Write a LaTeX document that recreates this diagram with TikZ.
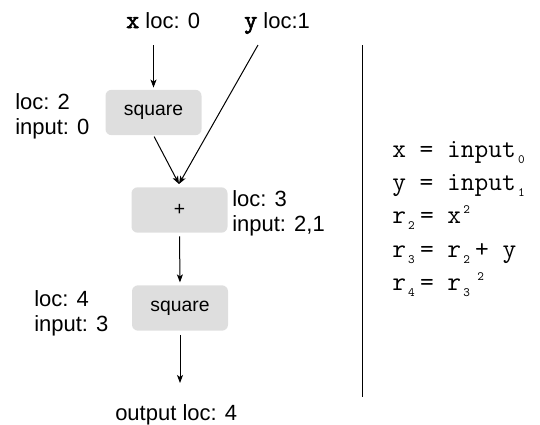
\documentclass[tikz,border=0pt]{standalone}
\usepackage{fontspec}
\setmainfont{Liberation Sans}
\newfontfamily\bmono[AutoFakeBold=2.5]{Latin Modern Mono}
\usetikzlibrary{arrows.meta,calc}
\newcommand\subc[1]{\makebox[0.525em][l]{\hspace{0.08em}\raisebox{-4.5pt}{\fontsize{9.5}{9.5}\selectfont #1}}}
\newcommand\supc[1]{\makebox[0.525em][l]{\hspace{0.08em}\raisebox{7pt}{\fontsize{9.5}{9.5}\selectfont #1}}}
\begin{document}
\begin{tikzpicture}[x=0.75pt,y=-0.75pt,
  opbox/.style={fill=black!13, rounded corners=4.5pt, minimum width=72pt, minimum height=34pt,
    inner sep=0pt, font=\fontsize{14.5}{17}\selectfont},
  lbl/.style={inner sep=0pt, align=left, font=\fontsize{16.5}{18.75}\selectfont},
  code/.style={inner sep=0pt, anchor=base west, font=\fontsize{20}{24}\selectfont\ttfamily},
  arr/.style={-{Stealth[length=6pt,width=4.5pt,inset=1.5pt]}, line width=0.75pt}]
\useasboundingbox (0,0) rectangle (540,425);

% operation boxes
\node[opbox] (sq1) at (153.5,112.5) {square};
\node[opbox] (plus) at (179.5,210) {+};
\node[opbox] (sq2) at (180,308) {square};

% labels
\node[lbl, anchor=base west] (xlab) at (126,28) {{\bmono\bfseries\fontsize{19}{19}\selectfont x} loc: 0};
\node[lbl, anchor=base west] (ylab) at (244,28) {{\bmono\bfseries\fontsize{19}{19}\selectfont y} loc:1};
\node[lbl, anchor=north west] (l2) at (15,93) {loc: 2\\input: 0};
\node[lbl, anchor=north west] (l3) at (232,190) {loc: 3\\input: 2,1};
\node[lbl, anchor=north west] (l4) at (34,290) {loc: 4\\input: 3};
\node[lbl, anchor=base west] (out) at (115,420) {output loc: 4};

% connector end points
\coordinate (xs) at (153.5,45);
\coordinate (ys) at (258,45);
\coordinate (meet) at (179,184);
\coordinate (oe) at (180,383);

\draw[arr, shorten >=1.5pt] (xs) -- (sq1.north);
\draw[arr] (ys) -- (meet);
\draw[arr, shorten <=1pt] (sq1.south) -- (meet);
\draw[arr, shorten <=2.5pt, shorten >=2pt] (plus.south) -- (sq2.north);
\draw[arr, shorten <=3pt] (sq2.south) -- (oe);

% divider
\draw[line width=0.75pt] (362,45) -- (362,397);

% code
\node[code] (c1) at (392,157) {x = input\subc{0}};
\node[code] (c2) at (392,190) {y = input\subc{1}};
\node[code] (c3) at (392,223) {r\subc{2}= x\supc{2}};
\node[code] (c4) at (392,257) {r\subc{3}= r\subc{2}+ y};
\node[code] (c5) at (392,290) {r\subc{4}= r\subc{3}\supc{2}};
\end{tikzpicture}
\end{document}
